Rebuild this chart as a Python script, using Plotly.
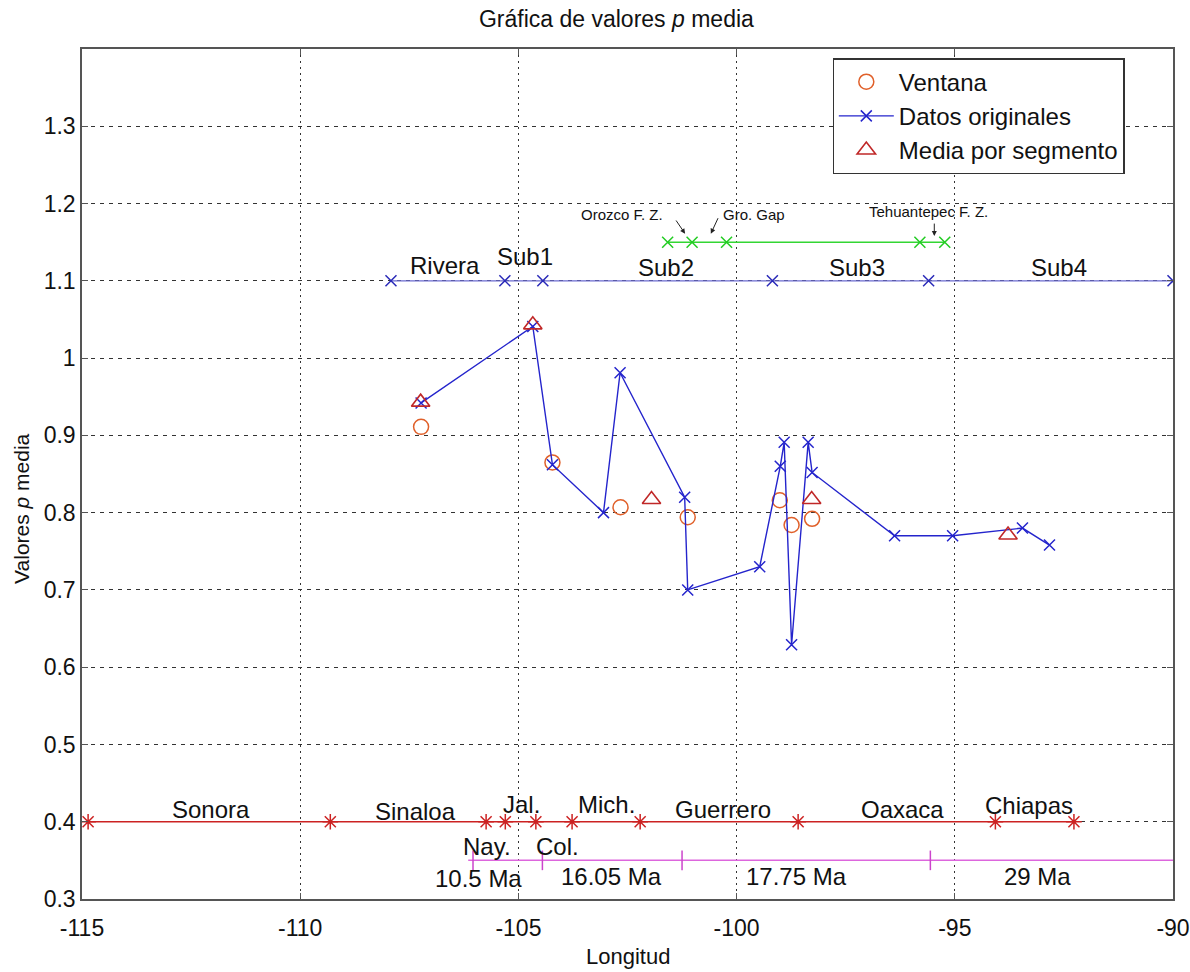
import plotly.graph_objects as go

# ---------------- data ----------------
# Datos originales (longitude, p value)
orig_lon = [-107.23, -104.67, -104.22, -103.05, -102.67, -101.19, -101.12, -99.47,
            -99.00, -98.91, -98.74, -98.36, -98.27, -96.38, -95.05, -93.45, -92.83]
orig_p = [0.942, 1.041, 0.862, 0.800, 0.981, 0.820, 0.700, 0.730,
          0.860, 0.891, 0.629, 0.891, 0.852, 0.770, 0.770, 0.780, 0.758]

# Ventana
vent_lon = [-107.23, -104.22, -102.66, -101.12, -99.01, -98.74, -98.27]
vent_p = [0.911, 0.865, 0.807, 0.794, 0.816, 0.784, 0.792]

# Media por segmento
seg_lon = [-107.24, -104.67, -101.95, -98.28, -93.78]
seg_p = [0.943, 1.043, 0.817, 0.817, 0.771]

# Subduction segments line (y = 1.1)
sub_lon = [-107.92, -105.31, -104.44, -99.18, -95.60, -90.0]
sub_y = [1.1] * len(sub_lon)
sub_labels = ["Rivera", "Sub1", "Sub2", "Sub3", "Sub4"]
sub_label_lon = [-106.69, -104.86, -101.62, -97.25, -92.62]
sub_label_y = [1.120, 1.131, 1.117, 1.117, 1.117]

# Fracture zones line (y = 1.15)
fz_lon = [-101.58, -101.02, -100.23, -95.80, -95.23]
fz_y = [1.15] * len(fz_lon)
fz_labels = ["Orozco F. Z.", "Gro. Gap", "Tehuantepec F. Z."]
fz_label_lon = [-102.63, -99.61, -95.60]
fz_label_y = [1.186, 1.186, 1.190]
fz_arrow_tail_lon = [-101.41, -100.41, -95.47]
fz_arrow_tail_y = [1.180, 1.183, 1.176]
fz_arrow_head_lon = [-101.18, -100.59, -95.47]
fz_arrow_head_y = [1.161, 1.161, 1.158]

# States line (y = 0.4)
state_lon = [-114.86, -109.31, -105.74, -105.30, -104.60, -103.77, -102.21, -98.59, -94.07, -92.27]
state_y = [0.4] * len(state_lon)
state_labels = ["Sonora", "Sinaloa", "Jal.", "Mich.", "Guerrero", "Oaxaca", "Chiapas", "Nay.", "Col."]
state_label_lon = [-112.05, -107.35, -104.94, -102.97, -100.32, -96.20, -93.31, -105.72, -104.10]
state_label_y = [0.416, 0.413, 0.422, 0.422, 0.416, 0.416, 0.421, 0.368, 0.368]

# Plate age line (y = 0.35)
age_line_lon = [-106.15, -90.0]
age_line_y = [0.35, 0.35]
age_tick_lon = [-106.04, -104.45, -101.25, -95.56]
age_tick_y = [0.35] * len(age_tick_lon)
age_labels = ["10.5 Ma", "16.05 Ma", "17.75 Ma", "29 Ma"]
age_label_lon = [-105.92, -102.86, -98.62, -93.10]
age_label_y = [0.327, 0.329, 0.329, 0.329]

x_ticks = [-115, -110, -105, -100, -95, -90]
x_ticktext = ["-115", "-110", "-105", "-100", "-95", "-90"]
y_ticks = [0.3, 0.4, 0.5, 0.6, 0.7, 0.8, 0.9, 1.0, 1.1, 1.2, 1.3]
y_ticktext = ["0.3", "0.4", "0.5", "0.6", "0.7", "0.8", "0.9", "1", "1.1", "1.2", "1.3"]

FONT = "Liberation Sans, Arial, Helvetica, sans-serif"

C_STATE = "#cc2222"
C_AGE = "#dd66dd"
C_FZ = "#33d633"
C_VENT = "#e0602a"
C_ORIG = "#2424cc"
C_SEG = "#c02828"

fig = go.Figure()

# States line
fig.add_trace(go.Scatter(x=state_lon, y=state_y, mode="lines+markers",
                         line=dict(color=C_STATE, width=1.5),
                         marker=dict(symbol="asterisk-open", size=13, color=C_STATE,
                                     line=dict(color=C_STATE, width=1.5)),
                         showlegend=False, hoverinfo="skip"))
# Age line
fig.add_trace(go.Scatter(x=age_line_lon, y=age_line_y, mode="lines",
                         line=dict(color=C_AGE, width=1.5),
                         showlegend=False, hoverinfo="skip"))
fig.add_trace(go.Scatter(x=age_tick_lon, y=age_tick_y, mode="markers",
                         marker=dict(symbol="line-ns-open", size=14, color="#cc44cc",
                                     line=dict(color="#cc44cc", width=1.5)),
                         showlegend=False, hoverinfo="skip"))
# Subduction line
fig.add_trace(go.Scatter(x=sub_lon, y=sub_y, mode="lines+markers",
                         line=dict(color="#6a6ad0", width=1.3),
                         marker=dict(symbol="x-thin-open", size=11, color="#2a2ab8",
                                     line=dict(color="#2a2ab8", width=1.5)),
                         showlegend=False, hoverinfo="skip"))
# Fracture zone line
fig.add_trace(go.Scatter(x=fz_lon, y=fz_y, mode="lines+markers",
                         line=dict(color=C_FZ, width=1.5),
                         marker=dict(symbol="x-thin-open", size=11, color="#22cc22",
                                     line=dict(color="#22cc22", width=1.5)),
                         showlegend=False, hoverinfo="skip"))

# Legend traces
fig.add_trace(go.Scatter(x=vent_lon, y=vent_p, mode="markers", name="Ventana",
                         marker=dict(symbol="circle-open", size=15, color=C_VENT,
                                     line=dict(color=C_VENT, width=1.5))))
fig.add_trace(go.Scatter(x=orig_lon, y=orig_p, mode="lines+markers", name="Datos originales",
                         line=dict(color=C_ORIG, width=1.4),
                         marker=dict(symbol="x-thin-open", size=11, color=C_ORIG,
                                     line=dict(color=C_ORIG, width=1.5))))
fig.add_trace(go.Scatter(x=seg_lon, y=seg_p, mode="markers", name="Media por segmento",
                         marker=dict(symbol="triangle-up-open", size=16, color=C_SEG,
                                     line=dict(color=C_SEG, width=1.6))))

annotations = []
for t, x, y in zip(sub_labels, sub_label_lon, sub_label_y):
    annotations.append(dict(x=x, y=y, xref="x", yref="y", text=t, showarrow=False,
                            font=dict(size=24, color="#111", family=FONT)))
for t, x, y in zip(state_labels, state_label_lon, state_label_y):
    annotations.append(dict(x=x, y=y, xref="x", yref="y", text=t, showarrow=False,
                            font=dict(size=24, color="#111", family=FONT)))
for t, x, y in zip(age_labels, age_label_lon, age_label_y):
    annotations.append(dict(x=x, y=y, xref="x", yref="y", text=t, showarrow=False,
                            font=dict(size=24, color="#111", family=FONT)))
for t, x, y in zip(fz_labels, fz_label_lon, fz_label_y):
    annotations.append(dict(x=x, y=y, xref="x", yref="y", text=t, showarrow=False,
                            font=dict(size=15, color="#111", family=FONT)))
for tx, ty, hx, hy in zip(fz_arrow_tail_lon, fz_arrow_tail_y, fz_arrow_head_lon, fz_arrow_head_y):
    annotations.append(dict(x=hx, y=hy, ax=tx, ay=ty, xref="x", yref="y", axref="x", ayref="y",
                            text="", showarrow=True, arrowhead=2, arrowsize=1.0,
                            arrowwidth=1, arrowcolor="#222"))

# Axis titles
annotations.append(dict(x=0.5, y=-0.068, xref="paper", yref="paper", text="Longitud",
                        showarrow=False, yanchor="middle",
                        font=dict(size=22, color="#111", family=FONT)))
annotations.append(dict(x=-0.056, y=0.46, xref="paper", yref="paper",
                        text="Valores <i>p</i> media", textangle=-90,
                        showarrow=False, xanchor="center", yanchor="middle",
                        font=dict(size=21, color="#111", family=FONT)))

axis_common = dict(showline=True, linecolor="#555", linewidth=1.5, mirror="ticks",
                   ticks="inside", ticklen=6, tickcolor="#555", zeroline=False,
                   showgrid=True, gridcolor="#333", gridwidth=1, automargin=False,
                   tickfont=dict(size=23, color="#111", family=FONT))

fig.update_layout(
    width=1190, height=972,
    margin=dict(l=82, r=17, t=49, b=73),
    paper_bgcolor="white", plot_bgcolor="white",
    title=dict(text="Gráfica de valores <i>p</i> media", x=0.518, y=0.981,
               xanchor="center", yanchor="middle",
               font=dict(size=23, color="#111", family=FONT)),
    xaxis=dict(range=[-115, -90], tickvals=x_ticks, ticktext=x_ticktext, griddash="2px,4px",
               ticklabelstandoff=8, ticklabeloverflow="allow", **axis_common),
    yaxis=dict(range=[0.3, 1.4], tickvals=y_ticks, ticktext=y_ticktext,
               griddash="4px,5px", **axis_common),
    legend=dict(x=0.688, y=0.989, xanchor="left", yanchor="top",
                bgcolor="white", bordercolor="#333", borderwidth=1.2,
                font=dict(size=24, color="#111", family=FONT),
                itemwidth=55, tracegroupgap=0),
    annotations=annotations,
    showlegend=True,
)

fig.write_html("out.html")
